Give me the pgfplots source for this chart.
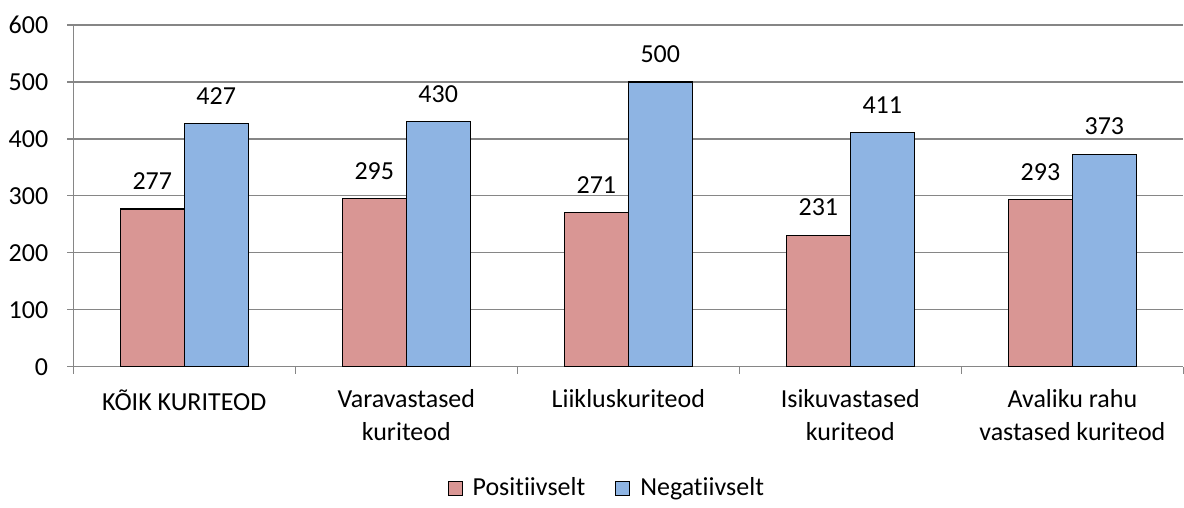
\documentclass[border=0pt]{standalone}
\usepackage{fontspec}
\setmainfont{Carlito}[Ligatures={NoCommon}]
\usepackage{pgfplots}
\pgfplotsset{compat=1.18}
\definecolor{pos}{HTML}{D99694}
\definecolor{neg}{HTML}{8EB4E3}
\definecolor{gridgray}{HTML}{868686}
\newcommand{\chartfont}{\fontsize{13}{16.5}\selectfont}
\begin{document}
\chartfont
\begin{tikzpicture}
\begin{axis}[
    at={(0,0)}, anchor=south west,
    width=555.5pt, height=171pt, scale only axis,
    ybar=0pt, bar width=32pt,
    xmin=-0.5, xmax=4.5, ymin=0, ymax=600,
    ytick={0,100,...,600},
    xtick={0,...,4},
    xticklabels={KÕIK KURITEOD, Varavastased\\kuriteod, Liikluskuriteod, Isikuvastased\\kuriteod, Avaliku rahu\\vastased kuriteod},
    minor xtick={-0.5,0.5,...,4.5},
    axis x line*=bottom, axis y line*=left,
    axis line style={draw=gridgray, line width=0.6pt},
    ymajorgrids, grid style={draw=gridgray, line width=0.6pt},
    tick align=outside,
    major x tick style={draw=none},
    minor x tick style={draw=gridgray, line width=0.6pt},
    ytick style={draw=gridgray, line width=0.6pt},
    major tick length=3pt, minor tick length=3.5pt,
    /pgf/number format/assume math mode=true,
    tick label style={font=\chartfont},
    x tick label style={align=center, yshift=-4pt},
    y tick label style={xshift=-5pt},
    nodes near coords,
    every node near coord/.append style={font=\chartfont, yshift=5pt},
    legend style={at={(0.4815,-0.355)}, anchor=center, draw=none,
        legend columns=2, font=\chartfont,
        /tikz/every odd column/.append style={column sep=3pt},
        /tikz/every even column/.append style={column sep=13pt}},
    legend image code/.code={\draw[#1, draw=black, line width=0.5pt] (0pt,-3.5pt) rectangle (7pt,3.5pt);},
]
\addplot[fill=pos, draw=black, line width=0.6pt] coordinates {(0,277) (1,295) (2,271) (3,231) (4,293)};
\addlegendentry{Positiivselt}
\addplot[fill=neg, draw=black, line width=0.6pt] coordinates {(0,427) (1,430) (2,500) (3,411) (4,373)};
\addlegendentry{Negatiivselt}
\end{axis}
\path (-36.5pt,-66.5pt) rectangle (555.5pt,183.5pt);
\end{tikzpicture}
\end{document}
